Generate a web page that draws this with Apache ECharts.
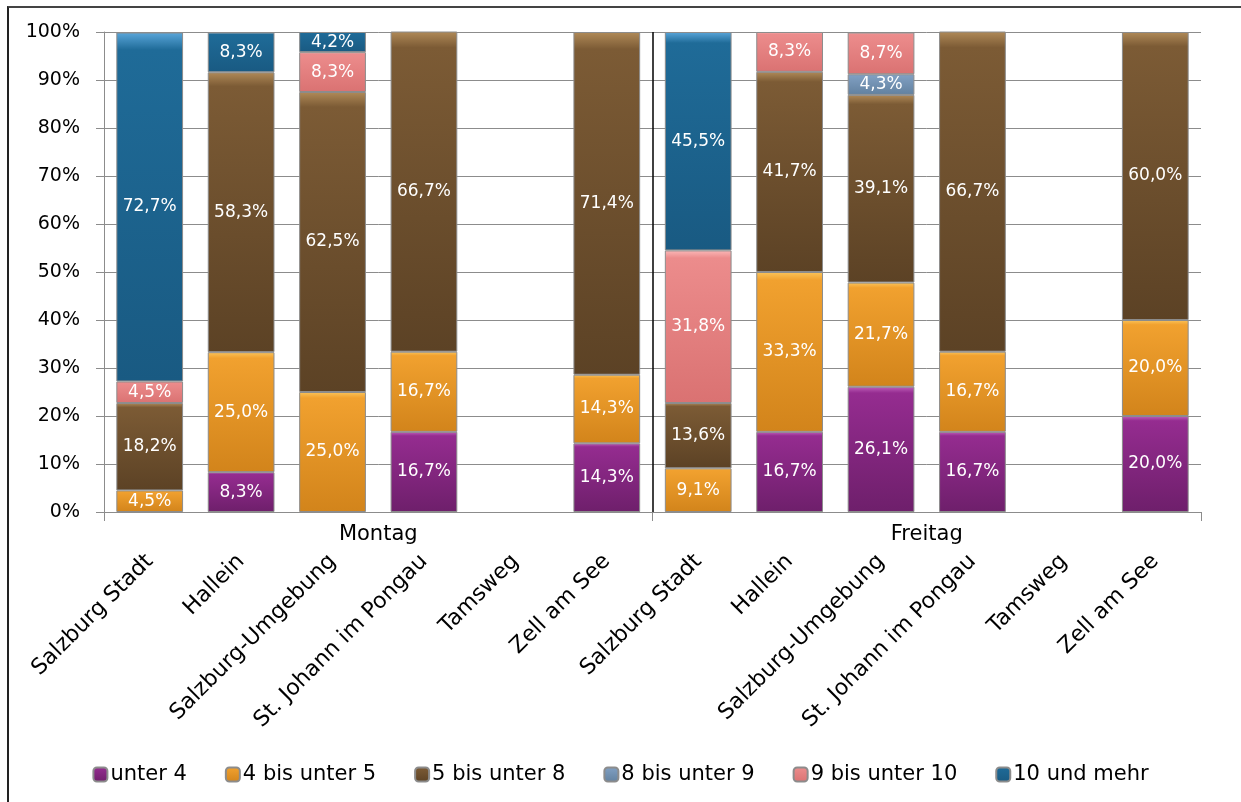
<!DOCTYPE html>
<html>
<head>
<meta charset="utf-8">
<title>Salzburg</title>
<script src="https://cdn.jsdelivr.net/npm/echarts@6/dist/echarts.min.js"></script>
<style>
	body { margin: 0; background: #fff; }
	#rahmen { position: absolute; left: 7px; top: 6px; width: 1240px; height: 800px; border-top: 2px solid #444; border-left: 2px solid #222; }
	#chart { position: absolute; left: 0; top: 0; width: 1241px; height: 802px; }
</style>
</head>
<body>
<div id="rahmen"></div>
<div id="chart"></div>
<script>
// Bezirke, je einmal Montag und Freitag
var bezirke = ['Salzburg Stadt', 'Hallein', 'Salzburg-Umgebung', 'St. Johann im Pongau', 'Tamsweg', 'Zell am See',
	'Salzburg Stadt', 'Hallein', 'Salzburg-Umgebung', 'St. Johann im Pongau', 'Tamsweg', 'Zell am See'];
var tage = ['Montag', 'Freitag'];
var yTicks = [0, 10, 20, 30, 40, 50, 60, 70, 80, 90, 100];

// Anteile in %, null = kein Wert
var unter4 = [null, 8.3, null, 16.7, null, 14.3, null, 16.7, 26.1, 16.7, null, 20.0];
var bis5 = [4.5, 25.0, 25.0, 16.7, null, 14.3, 9.1, 33.3, 21.7, 16.7, null, 20.0];
var bis8 = [18.2, 58.3, 62.5, 66.7, null, 71.4, 13.6, 41.7, 39.1, 66.7, null, 60.0];
var bis9 = [null, null, null, null, null, null, null, null, 4.3, null, null, null];
var bis10 = [4.5, null, 8.3, null, null, null, 31.8, 8.3, 8.7, null, null, null];
var mehr10 = [72.7, 8.3, 4.2, null, null, null, 45.5, null, null, null, null, null];

var namen = ['unter 4', '4 bis unter 5', '5 bis unter 8', '8 bis unter 9', '9 bis unter 10', '10 und mehr'];
var werte = [unter4, bis5, bis8, bis9, bis10, mehr10];
// hell oben -> dunkel unten
var farben = [
	['#c060ba', '#952c90', '#6e1f6b'],
	['#fbc45a', '#f1a12f', '#d2841b'],
	['#b08a58', '#7c5b35', '#5c4225'],
	['#b8d0ea', '#809fc2', '#62819f'],
	['#fbb8b8', '#ec8c8c', '#da7272'],
	['#5aa6da', '#1f6b98', '#195a82']
];

var schrift = 'DejaVu Sans';

function verlauf(f) {
	return new echarts.graphic.LinearGradient(0, 0, 0, 1, [
		{ offset: 0, color: f[0] },
		{ offset: 0.05, color: f[1] },
		{ offset: 1, color: f[2] }
	]);
}

function komma(p) {
	return p.value.toFixed(1).replace('.', ',') + '%';
}

var serien = [];
for (let i = 0; i < namen.length; i++) {
	serien.push({
		name: namen[i],
		type: 'bar',
		stack: 'a',
		barWidth: '73%',
		data: werte[i],
		itemStyle: {
			color: verlauf(farben[i]),
			borderColor: '#8c8c8c',
			borderWidth: 1
		},
		label: {
			show: true,
			position: 'inside',
			color: '#fff',
			fontFamily: schrift,
			fontSize: 17,
			formatter: komma
		}
	});
}
// Trennlinie zwischen Montag und Freitag
serien.push({
	type: 'line',
	xAxisIndex: 2,
	data: [],
	silent: true,
	markLine: {
		symbol: 'none',
		silent: true,
		label: { show: false },
		lineStyle: { color: '#000', width: 1.5, type: 'solid' },
		data: [{ xAxis: bezirke.length / 2 }]
	}
});

var myChart = echarts.init(document.getElementById('chart'));
var option = {
	animation: false,
	grid: { left: 104, right: 40, top: 32, bottom: 290 },
	legend: {
		data: namen,
		bottom: 12,
		left: 'center',
		itemWidth: 14,
		itemHeight: 14,
		itemGap: 38,
		textStyle: { fontFamily: schrift, fontSize: 21, color: '#000', padding: [0, 0, 0, -2] }
	},
	xAxis: [{
		type: 'category',
		data: bezirke,
		axisLine: { lineStyle: { color: '#8c8c8c' } },
		axisTick: { show: false },
		axisLabel: {
			interval: 0,
			rotate: 45,
			margin: 46,
			color: '#000',
			fontFamily: schrift,
			fontSize: 22
		}
	}, {
		type: 'category',
		data: tage,
		position: 'bottom',
		axisLine: { show: false },
		axisTick: { show: true, length: 9, lineStyle: { color: '#8c8c8c' } },
		axisLabel: { margin: 12, color: '#000', fontFamily: schrift, fontSize: 21 }
	}, {
		type: 'value',
		min: 0,
		max: bezirke.length,
		show: false
	}],
	yAxis: {
		type: 'value',
		min: yTicks[0],
		max: yTicks[yTicks.length - 1],
		interval: yTicks[1] - yTicks[0],
		axisLine: { show: true, lineStyle: { color: '#8c8c8c' } },
		axisTick: { show: true, length: 8, lineStyle: { color: '#8c8c8c' } },
		splitLine: { lineStyle: { color: '#8c8c8c' } },
		axisLabel: {
			margin: 24,
			color: '#000',
			fontFamily: schrift,
			fontSize: 19,
			formatter: '{value}%'
		}
	},
	series: serien
};
myChart.setOption(option);
</script>
</body>
</html>
